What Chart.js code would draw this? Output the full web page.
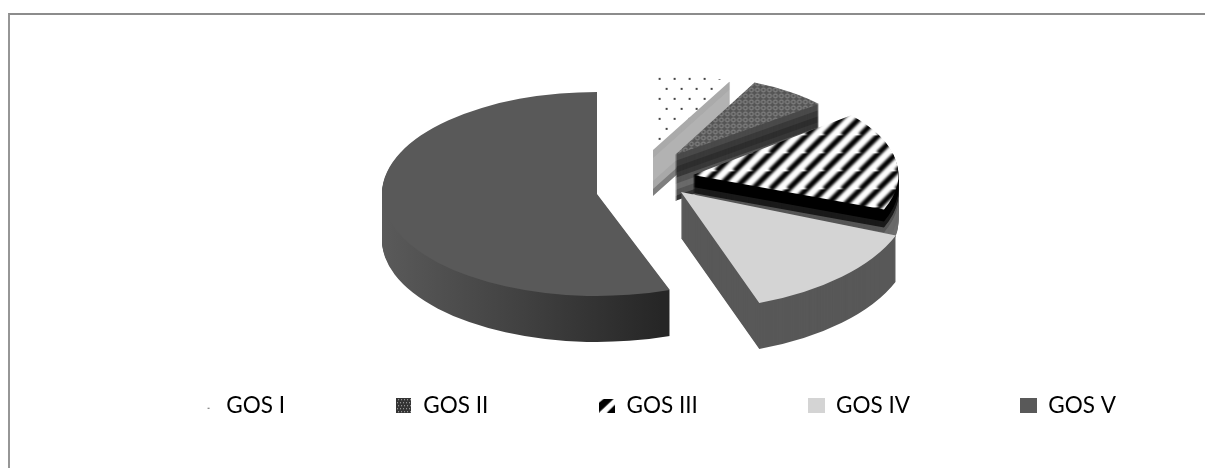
<!DOCTYPE html>
<html>
<head>
<meta charset="utf-8">
<script src="https://cdn.jsdelivr.net/npm/chart.js@4"></script>
<style>
  html, body { margin: 0; background: #fff; overflow: hidden; }
  #frame { position: absolute; left: 8px; top: 13px; width: 1300px; height: 600px; border-top: 2px solid #8c8c8c; border-left: 2px solid #969696; }
  #wrap { position: absolute; left: 0; top: 0; width: 1314px; height: 468px; filter: blur(0.45px); }
</style>
</head>
<body>
<div id="frame"></div>
<div id="wrap"><canvas id="gosChart" width="1314" height="468"></canvas></div>
<script>
const categories = ["GOS I", "GOS II", "GOS III", "GOS IV", "GOS V"];
const shares = [7, 7, 17, 13.5, 55.5];

// look of the fake 3D pie, nothing here is data
const centerX = 645, centerY = 188;
const radiusX = 210, radiusY = 97;
const pieDepth = 46;
const explodeX = [8, 30, 48, 36, -48];
const explodeY = [-38, -33, -13, 4, 6];
const sideShades = [
  ["#aaaaaa", "#b2b2b2", "#b2b2b2", "#b2b2b2", "#a8a8a8", "#7e7e7e"],
  ["#4a4a4a", "#3a3a3a", "#2e2e2e", "#383838", "#555555", "#6a6a6a", "#555555", "#333333"],
  ["#000000", "#000000", "#1a1a1a", "#555555", "#6a6a6a", "#6a6a6a", "#6e6e6e", "#6e6e6e"],
  ["#585858"],
  null
];

const ctxMain = document.getElementById("gosChart").getContext("2d");

function tile(w, h, paint) {
  const c = document.createElement("canvas");
  c.width = w;
  c.height = h;
  paint(c.getContext("2d"));
  return c;
}

function dots(g) {
  g.fillStyle = "#fff";
  g.fillRect(0, 0, 15, 20);
  g.fillStyle = "#444";
  g.fillRect(3, 4, 2, 2);
  g.fillRect(10, 14, 2, 2);
}

function mesh(g) {
  g.fillStyle = "#555";
  g.fillRect(0, 0, 6, 6);
  g.strokeStyle = "#8f8f8f";
  g.lineWidth = 1;
  g.beginPath();
  g.arc(3, 3, 2, 0, Math.PI * 2);
  g.stroke();
}

function stripes(g) {
  g.fillStyle = "#fff";
  g.fillRect(0, 0, 18, 18);
  g.filter = "blur(0.8px)";
  g.strokeStyle = "#000";
  g.lineWidth = 5.5;
  g.beginPath();
  for (let k = -18; k <= 36; k += 18) {
    g.moveTo(k - 18, 18);
    g.lineTo(k + 18, -18);
  }
  g.stroke();
}

const fills = [
  ctxMain.createPattern(tile(15, 20, dots), "repeat"),
  ctxMain.createPattern(tile(6, 6, mesh), "repeat"),
  ctxMain.createPattern(tile(18, 18, stripes), "repeat"),
  "#d4d4d4",
  "#595959"
];

const swatches = [
  tile(12, 12, g => { g.fillStyle = "#666"; g.fillRect(7, 8, 2, 1); }),
  tile(15, 15, g => {
    g.fillStyle = "#333";
    g.fillRect(0, 0, 15, 15);
    g.fillStyle = "#bbb";
    for (let y = 1; y < 15; y += 3) for (let x = (y % 2) + 1; x < 15; x += 3) g.fillRect(x, y, 1, 1);
  }),
  tile(16, 14, g => {
    g.fillStyle = "#000";
    g.beginPath();
    g.moveTo(0, 14);
    g.lineTo(0, 4);
    g.lineTo(5, 0);
    g.lineTo(15, 0);
    g.closePath();
    g.fill();
    g.beginPath();
    g.moveTo(16, 6);
    g.lineTo(16, 14);
    g.lineTo(8, 14);
    g.closePath();
    g.fill();
  }),
  tile(17, 15, g => { g.fillStyle = "#d4d4d4"; g.fillRect(0, 0, 17, 15); }),
  tile(17, 15, g => { g.fillStyle = "#595959"; g.fillRect(0, 0, 17, 15); })
];

const pie3d = {
  id: "pie3d",
  beforeDatasetsDraw(chart) {
    const ctx = chart.ctx;
    const arcs = chart.getDatasetMeta(0).data;

    arcs.forEach((arc, i) => {
      const mid = (arc.startAngle + arc.endAngle) / 2;
      const base = arc.options;
      // front slices a bit bigger than the back ones; sin(mid) is 1 at the front
      const front = Math.sin(mid);
      const sx = (1 + 0.14 * front) * radiusX / arc.outerRadius;
      const sy = (1 + (front > 0 ? 0.3 : 0.22) * front) * radiusY / arc.outerRadius;

      if (fills[i] instanceof CanvasPattern) {
        fills[i].setTransform(new DOMMatrix().scale(1 / sx, 1 / sy));
      }

      ctx.save();
      ctx.translate(centerX + explodeX[i], centerY + explodeY[i]);

      for (let k = pieDepth; k >= 0; k--) {
        ctx.save();
        ctx.translate(0, k);
        ctx.scale(sx, sy);
        ctx.translate(-arc.x, -arc.y);
        let color = fills[i];
        if (k > 0) {
          if (sideShades[i]) {
            const steps = sideShades[i];
            color = steps[Math.min(steps.length - 1, Math.floor((k - 1) / pieDepth * steps.length))];
          } else {
            const grad = ctx.createLinearGradient(arc.x - arc.outerRadius, 0, arc.x + arc.outerRadius * 0.3, 0);
            grad.addColorStop(0, "#5a5a5a");
            grad.addColorStop(0.5, "#414141");
            grad.addColorStop(1, "#262626");
            color = grad;
          }
        }
        arc.options = Object.assign({}, base, { backgroundColor: color });
        arc.draw(ctx);
        ctx.restore();
      }
      arc.options = base;
      ctx.restore();
    });
    return false;
  }
};

new Chart(ctxMain, {
  type: "pie",
  data: {
    labels: categories,
    datasets: [{ data: shares, backgroundColor: fills, borderWidth: 0 }]
  },
  options: {
    responsive: false,
    animation: false,
    events: [],
    layout: { padding: { bottom: 41 } },
    plugins: {
      tooltip: { enabled: false },
      legend: {
        position: "bottom",
        labels: {
          usePointStyle: true,
          boxWidth: 17,
          color: "#000",
          font: { family: "Lato", size: 22.5 },
          padding: 110,
          generateLabels(chart) {
            const items = Chart.overrides.pie.plugins.legend.labels.generateLabels(chart);
            items.forEach((it, i) => { it.pointStyle = swatches[i]; });
            return items;
          }
        }
      }
    }
  },
  plugins: [pie3d]
});
</script>
</body>
</html>
